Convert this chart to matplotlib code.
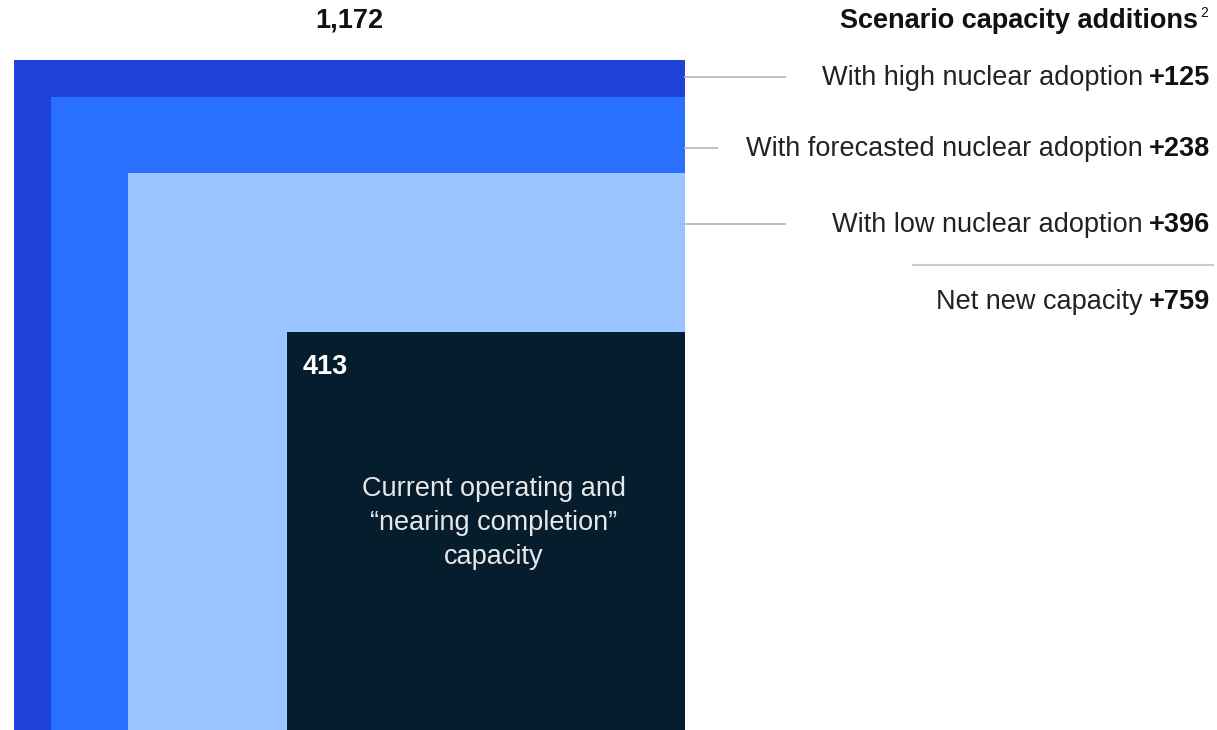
import numpy as np
import matplotlib
matplotlib.use("Agg")
import matplotlib.pyplot as plt
from matplotlib.patches import Rectangle

# capacity values
total = 1172
base = 413
scenarios = ["With high nuclear adoption", "With forecasted nuclear adoption", "With low nuclear adoption"]
additions = [125, 238, 396]
net_label = "Net new capacity"
net_value = 759
base_text = "Current operating and\n\u201cnearing completion\u201d\ncapacity"
colors = ["#1f43da", "#2970ff", "#99c4ff", "#061d2d"]

plt.rcParams['font.family'] = ['Liberation Sans', 'DejaVu Sans']

W, H = 1217, 730
fig = plt.figure(figsize=(W / 100, H / 100), dpi=100)

side_total = np.sqrt(total)
ax = fig.add_axes([14 / W, 0, 671 / W, 670 / H])
ax.set_xlim(-side_total, 0)
ax.set_ylim(0, side_total)
ax.axis("off")

# nested squares anchored bottom-right, area proportional to value
levels = [total]
for a in additions:
    levels.append(levels[-1] - a)
for v, c in zip(levels, colors):
    s = np.sqrt(v)
    ax.add_patch(Rectangle((-s, 0), s, s, facecolor=c, edgecolor="none"))

def fx(px):
    return px / W

def fy(py):
    return 1 - py / H

fs = 19.5

# total label
fig.text(fx(349), fy(21), f"{total:,}", ha="center", va="center", fontsize=fs, fontweight="bold", color="#111111")
fig.text(fx(1198), fy(21), "Scenario capacity additions", ha="right", va="center", fontsize=fs, fontweight="bold", color="#111111")
fig.text(fx(1200), fy(13), "2", ha="left", va="center", fontsize=10, color="#111111")

label_y = [77, 148, 224]
line_end = [785, 717, 785]
for ly, le in zip(label_y, line_end):
    fig.add_artist(plt.Line2D([fx(685), fx(le)], [fy(ly), fy(ly)], color="#bbbbbb", lw=1.3))
fig.add_artist(plt.Line2D([fx(913), fx(1213)], [fy(265), fy(265)], color="#cccccc", lw=1.6))

rows = list(zip(scenarios, additions, label_y)) + [(net_label, net_value, 301)]
pairs = []
for name, val, ly in rows:
    num = fig.text(fx(1210), fy(ly + 1), f"+{val}", ha="right", va="center",
                   fontsize=fs, fontweight="bold", color="#111111")
    lab = fig.text(fx(1210), fy(ly + 1), name, ha="right", va="center", fontsize=fs, color="#222222")
    pairs.append((num, lab))

# shift plain labels left of the bold numbers
fig.canvas.draw()
renderer = fig.canvas.get_renderer()
for num, lab in pairs:
    bb = num.get_window_extent(renderer)
    lab.set_position((fx(bb.x0 - 6), num.get_position()[1]))

# base square labels
fig.text(fx(303), fy(367), str(base), ha="left", va="center", fontsize=fs, fontweight="bold", color="white")
fig.text(fx(494), fy(523), base_text, ha="center", va="center", fontsize=fs, color="#e8e8e8", linespacing=1.38)

fig.savefig("out.png", dpi=100)
